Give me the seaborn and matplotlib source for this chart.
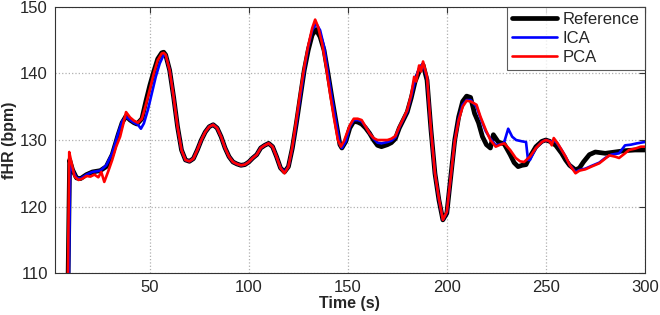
import matplotlib
matplotlib.use('Agg')
import matplotlib.pyplot as plt
import seaborn as sns

# ── Data ───────────────────────────────────────────────────────────────────────
ref_t = [8.3, 9.5, 11, 13, 15, 18, 21, 25, 28, 31, 34, 36, 38, 40, 42, 43.5, 46, 48, 50, 52,
         54, 56, 57, 58, 60, 62, 64, 66, 68, 70, 72, 74, 76, 78, 80, 82, 84, 86, 88, 90,
         92, 94, 96, 98, 100, 102, 104, 106, 108, 110, 112, 114, 116, 118, 120, 122, 124, 126, 128, 130,
         132, 134, 136, 138, 140, 142, 144, 146, 147, 149, 151, 153, 155, 157, 159, 161, 163, 165, 167, 170,
         172, 174, 176, 178, 180, 182, 184, 186, 188, 190, 192, 194, 196, 198, 200, 202, 204, 206, 208, 210,
         212, 214, 216, 218, 220, 222, 223.5, 226, 229, 232, 234, 236, 238, 240, 242, 245, 248, 250, 252, 255,
         258, 260, 262, 265, 267, 269, 272, 275, 280, 285, 290, 295, 300]
ref_hr = [100, 127.0, 125.5, 124.3, 124.2, 124.8, 125.2, 125.4, 126.0, 127.8, 130.8, 132.6, 133.6, 133.0, 132.6, 132.4, 133.2, 135.8, 138.2, 140.3,
          142.2, 143.1, 143.2, 142.8, 140.5, 136.5, 132.0, 128.5, 127.0, 126.8, 127.2, 128.5, 130.0, 131.2, 132.0, 132.3, 131.8, 130.5, 128.8, 127.5,
          126.7, 126.4, 126.2, 126.3, 126.7, 127.3, 127.8, 128.8, 129.2, 129.5, 129.0, 127.5, 125.8, 125.2, 126.0, 128.8, 132.5, 136.5, 140.5, 143.5,
          145.8, 146.6, 145.5, 143.5, 140.0, 136.3, 132.8, 129.3, 128.8, 129.8, 131.8, 132.8, 132.7, 132.4, 131.8, 131.0, 130.0, 129.2, 129.0, 129.3,
          129.6, 130.2, 131.8, 133.0, 134.2, 136.3, 138.8, 140.3, 141.3, 139.0, 131.5, 125.0, 121.0, 118.0, 119.0, 124.5, 130.0, 133.5, 135.8, 136.6,
          136.4, 134.0, 132.6, 130.5, 129.3, 128.8, 130.8, 129.7, 129.4, 127.8, 126.6, 126.0, 126.2, 126.3, 127.5, 129.0, 129.8, 130.0, 129.8, 129.2,
          128.0, 127.0, 126.2, 125.5, 125.8, 126.7, 127.8, 128.2, 128.0, 128.2, 128.4, 128.5, 128.5]

ica_t = [8.8, 9.8, 11, 13, 15, 18, 21, 25, 28, 31, 34, 36, 38, 40, 42, 44, 45.5, 47, 49, 51,
         53, 55, 57, 58, 60, 62, 64, 66, 68, 70, 72, 74, 76, 78, 80, 82, 84, 86, 88, 90,
         92, 94, 96, 98, 100, 102, 104, 106, 108, 110, 112, 114, 116, 118, 120, 122, 124, 126, 128, 130,
         132, 134, 136, 138, 140, 142, 144, 146, 147, 149, 151, 153, 155, 157, 159, 161, 163, 165, 167, 170,
         172, 174, 176, 178, 180, 182, 184, 186, 188, 190, 192, 194, 196, 198, 200, 202, 204, 206, 208, 210,
         212, 215, 217, 219.7, 222, 224.7, 228.8, 231, 233, 235, 238, 240, 241, 242, 245, 248, 250, 252, 255, 258,
         260, 262, 265, 267, 270, 273, 277, 280, 283, 287, 290, 293, 296, 300]
ica_hr = [100, 127.0, 125.5, 124.3, 124.2, 124.8, 125.2, 125.4, 126.2, 128.0, 131.0, 132.8, 133.5, 133.0, 132.6, 132.3, 131.7, 132.5, 134.5, 137.0,
          139.5, 141.5, 142.8, 142.8, 140.5, 136.5, 132.0, 128.5, 127.0, 126.8, 127.2, 128.5, 130.0, 131.2, 132.0, 132.3, 131.8, 130.5, 128.8, 127.5,
          126.7, 126.4, 126.2, 126.3, 126.7, 127.3, 127.8, 128.8, 129.2, 129.5, 129.0, 127.5, 125.8, 125.2, 126.0, 128.8, 132.5, 136.5, 140.5, 144.0,
          146.5, 147.5, 146.5, 144.0, 140.0, 136.3, 132.8, 129.3, 128.8, 129.8, 132.0, 133.0, 133.0, 132.8, 132.0, 131.0, 130.2, 129.6, 129.5, 129.7,
          129.9, 130.4, 131.9, 133.1, 134.3, 136.5, 139.0, 140.8, 141.5, 139.3, 131.5, 125.0, 121.1, 118.0, 119.1, 124.5, 129.9, 133.2, 135.3, 136.0,
          136.0, 135.0, 133.3, 131.3, 130.2, 129.2, 129.5, 131.7, 130.5, 130.0, 129.8, 129.7, 127.0, 127.0, 128.8, 129.7, 130.0, 129.8, 129.8, 128.5,
          127.5, 126.3, 125.2, 125.5, 125.7, 126.1, 126.6, 127.3, 127.8, 128.0, 129.2, 129.3, 129.5, 129.7]

pca_t = [8.3, 9.3, 10.5, 12, 14, 16, 18, 20, 22, 24, 25.5, 27, 29, 31, 33, 35, 36.5, 38, 40, 42,
         44, 46, 48, 50, 52, 54, 56, 57, 58, 60, 62, 64, 66, 68, 70, 72, 74, 76, 78, 80,
         82, 84, 86, 88, 90, 92, 94, 96, 98, 100, 102, 104, 106, 108, 110, 112, 114, 116, 118, 120,
         122, 124, 126, 128, 130, 132, 133.5, 135, 137, 139, 141, 143, 145, 146.5, 148, 151, 153, 155, 157, 159,
         161, 163, 165, 167, 170, 172, 174, 176, 178, 180, 182, 183.5, 184.5, 186, 187, 188, 190, 192, 194, 196,
         198, 200, 202, 204, 206, 208, 210, 212, 215, 217, 219.7, 222, 224.7, 227, 229, 232, 234.8, 237, 239, 242,
         245, 248, 250, 252, 253, 254, 256, 258, 260, 262, 265, 267, 270, 273, 277, 280, 282, 285, 287, 290,
         292, 295, 298, 300]
pca_hr = [100, 128.2, 126.5, 124.5, 124.0, 124.2, 124.6, 124.5, 124.8, 124.4, 125.2, 123.7, 125.3, 127.0, 129.0, 130.5, 132.3, 134.2, 133.4, 132.9,
          132.6, 133.2, 135.3, 137.6, 140.0, 142.0, 143.0, 143.1, 142.8, 140.5, 136.5, 132.0, 128.5, 127.0, 126.8, 127.2, 128.5, 130.0, 131.2, 132.0,
          132.3, 131.8, 130.5, 128.8, 127.5, 126.7, 126.4, 126.2, 126.3, 126.7, 127.3, 127.8, 128.8, 129.2, 129.5, 129.0, 127.5, 125.8, 125.0, 126.0,
          129.0, 133.0, 137.2, 141.0, 144.2, 146.8, 148.1, 147.0, 144.5, 141.0, 137.0, 133.3, 130.0, 129.0, 129.8, 132.2, 133.2, 133.2, 133.0, 132.0,
          131.0, 130.3, 130.0, 130.0, 130.0, 130.2, 130.6, 132.0, 133.2, 134.5, 136.8, 139.5, 138.8, 141.2, 140.3, 141.8, 139.5, 131.5, 125.0, 121.2,
          118.0, 119.2, 124.5, 129.8, 133.0, 135.0, 135.9, 135.8, 135.3, 133.5, 131.5, 130.0, 129.0, 129.3, 129.5, 128.5, 127.3, 126.8, 126.7, 127.5,
          128.8, 129.7, 130.0, 129.8, 129.2, 130.3, 129.5, 128.5, 127.5, 126.3, 125.0, 125.4, 125.6, 126.0, 126.5, 127.2, 127.7, 127.5, 127.3, 128.0,
          128.5, 128.7, 129.0, 129.0]

# ── Plot ───────────────────────────────────────────────────────────────────────
sns.set_style('white')
plt.rcParams['font.family'] = ['Liberation Sans', 'DejaVu Sans']

fig = plt.figure(figsize=(6.6, 3.15), dpi=100)
ax = fig.add_axes([0.083, 0.133, 0.894, 0.845])

sns.lineplot(x=ref_t, y=ref_hr, color='black', linewidth=3.4, label='Reference', ax=ax)
sns.lineplot(x=ica_t, y=ica_hr, color='#0000ff', linewidth=1.9, label='ICA', ax=ax)
sns.lineplot(x=pca_t, y=pca_hr, color='#ff0000', linewidth=1.9, label='PCA', ax=ax)

ax.set_xlim(2, 300)
ax.set_ylim(110, 150)
ax.set_xticks([50, 100, 150, 200, 250, 300])
ax.set_yticks([110, 120, 130, 140, 150])
ax.grid(True, linestyle=':', color='#b0b0b0', linewidth=0.9)
ax.tick_params(direction='in', length=4, labelsize=12, top=True, right=True,
               color='#333333', pad=5)
for s in ax.spines.values():
    s.set_color('#333333')
    s.set_linewidth(0.8)

ax.set_xlabel('Time (s)', fontsize=11.5, fontweight='bold', labelpad=1)
ax.set_ylabel('fHR (bpm)', fontsize=11.5, fontweight='bold')
ax.yaxis.set_label_coords(-0.064, 0.5)

leg = ax.legend(loc='upper right', fontsize=12, frameon=True, fancybox=False,
                borderaxespad=0, handlelength=2.7, handletextpad=0.35,
                labelspacing=0.25, borderpad=0.3)
leg.get_frame().set_edgecolor('#333333')
leg.get_frame().set_linewidth(0.8)

fig.savefig('out.png', dpi=100)
